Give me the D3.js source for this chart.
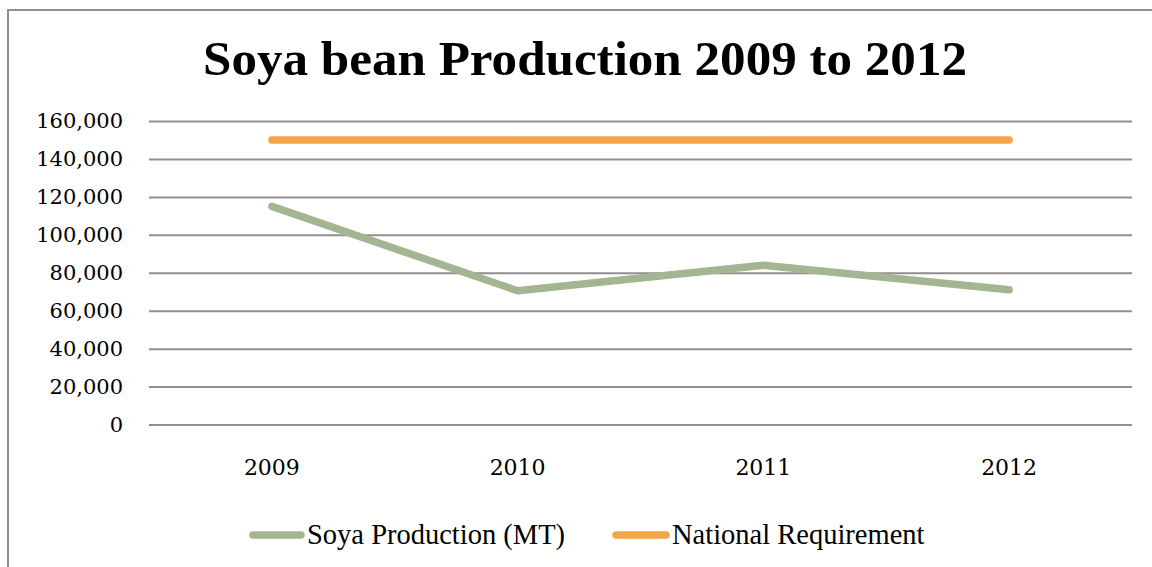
<!DOCTYPE html>
<html>
<head>
<meta charset="utf-8">
<script src="https://cdn.jsdelivr.net/npm/d3@7"></script>
<style>
  html, body { margin: 0; padding: 0; background: #ffffff; overflow: hidden; }
  svg { display: block; }
</style>
</head>
<body>
<svg id="chart" width="1152" height="567"></svg>
<script>
// Chart data
const years = ["2009", "2010", "2011", "2012"];
const soyaProduction = [115000, 70500, 84000, 71000];
const nationalRequirement = [150000, 150000, 150000, 150000];
const yTicks = [0, 20000, 40000, 60000, 80000, 100000, 120000, 140000, 160000];
const seriesNames = ["Soya Production (MT)", "National Requirement"];
const seriesColors = ["#a4b591", "#f4a546"];
const titleText = "Soya bean Production 2009 to 2012";

const svg = d3.select("#chart");
const W = 1152, H = 567;
const plot = { left: 149, right: 1132, top: 121, bottom: 424.5 };

// Outer chart frame (runs off the right and bottom edges)
svg.append("rect")
  .attr("x", 8).attr("y", 10)
  .attr("width", W + 20).attr("height", H + 40)
  .attr("fill", "#ffffff")
  .attr("stroke", "#8f8f8f")
  .attr("stroke-width", 2);

// Title
svg.append("text")
  .attr("x", 585).attr("y", 75)
  .attr("text-anchor", "middle")
  .attr("font-family", "'Liberation Serif', 'DejaVu Serif', serif")
  .attr("font-weight", "bold")
  .attr("font-size", 48)
  .attr("textLength", 764)
  .attr("lengthAdjust", "spacingAndGlyphs")
  .attr("fill", "#000")
  .text(titleText);

// Scales
const x = d3.scaleBand().domain(years).range([plot.left, plot.right]).padding(0);
const y = d3.scaleLinear().domain([0, 160000]).range([plot.bottom, plot.top]);
const cx = d => x(d) + x.bandwidth() / 2;

// Y axis with gridlines
const yAxis = svg.append("g")
  .attr("transform", `translate(${plot.left},0)`)
  .call(d3.axisLeft(y)
    .tickValues(yTicks)
    .tickSize(-(plot.right - plot.left))
    .tickPadding(26)
    .tickFormat(d3.format(",")));
yAxis.select(".domain").remove();
yAxis.selectAll(".tick line")
  .attr("stroke", "#8f8f8f")
  .attr("stroke-width", 2);
yAxis.selectAll(".tick text")
  .attr("font-family", "'DejaVu Serif', 'Liberation Serif', serif")
  .attr("font-size", 21)
  .attr("fill", "#000")
  .style("font-variant-numeric", "oldstyle-nums");

// X axis labels
const xAxis = svg.append("g")
  .attr("transform", `translate(0,${plot.bottom})`)
  .call(d3.axisBottom(x).tickSize(0).tickPadding(35));
xAxis.select(".domain").remove();
xAxis.selectAll(".tick text")
  .attr("font-family", "'DejaVu Serif', 'Liberation Serif', serif")
  .attr("font-size", 22)
  .attr("fill", "#000")
  .style("font-variant-numeric", "oldstyle-nums");

// Series lines
const line = d3.line()
  .x((d, i) => cx(years[i]))
  .y(d => y(d));

[soyaProduction, nationalRequirement].forEach((values, k) => {
  svg.append("path")
    .datum(values)
    .attr("d", line)
    .attr("fill", "none")
    .attr("stroke", seriesColors[k])
    .attr("stroke-width", 7.5)
    .attr("stroke-linecap", "round")
    .attr("stroke-linejoin", "round");
});

// Legend
const legendItems = [
  { x1: 253, x2: 301, tx: 307 },
  { x1: 616, x2: 666, tx: 672 }
];
const legend = svg.append("g");
legendItems.forEach((it, k) => {
  legend.append("line")
    .attr("x1", it.x1).attr("x2", it.x2)
    .attr("y1", 535).attr("y2", 535)
    .attr("stroke", seriesColors[k])
    .attr("stroke-width", 7.5)
    .attr("stroke-linecap", "round");
  legend.append("text")
    .attr("x", it.tx).attr("y", 544)
    .attr("font-family", "'Liberation Serif', 'DejaVu Serif', serif")
    .attr("font-size", 28.5)
    .attr("fill", "#000")
    .text(seriesNames[k]);
});
</script>
</body>
</html>
